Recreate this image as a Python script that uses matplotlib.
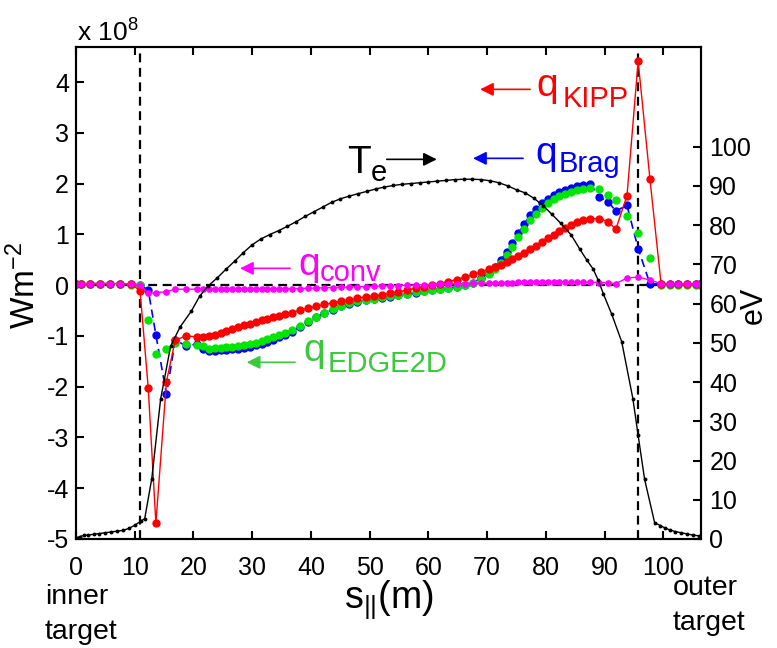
import matplotlib
matplotlib.use('Agg')
import matplotlib.pyplot as plt

plt.rcParams['font.family'] = ['Liberation Sans', 'DejaVu Sans']
plt.rcParams['mathtext.fontset'] = 'custom'
plt.rcParams['mathtext.rm'] = 'Liberation Sans'
plt.rcParams['mathtext.it'] = 'Liberation Sans:italic'
plt.rcParams['axes.unicode_minus'] = False

# s_par positions of the heat flux points (m)
s_q = [0, 0.8, 2.4, 4.1, 5.8, 7.5, 9.4, 10.9, 12.3, 13.6, 15.4, 16.9, 18.8, 20.6, 21.7,
       22.6, 23.6, 24.6, 25.6, 26.6, 27.6, 28.6, 29.6, 30.6, 31.6, 32.6, 33.6, 34.6, 35.6, 36.7,
       38.1, 39.5, 40.9, 42.3, 43.7, 45.1, 46.5, 47.9, 49.3, 50.7, 52.1, 53.5, 54.9, 56.4, 57.8,
       59.2, 60.6, 62.0, 63.4, 64.8, 66.2, 67.6, 69.0,
       70.3, 71.3, 72.3, 73.3, 74.3, 75.3, 76.3, 77.3, 78.3, 79.3, 80.3, 81.3, 82.3, 83.3, 84.3,
       85.3, 86.3,
       87.5, 89.1, 90.6, 91.9, 93.8, 95.7, 97.7, 99.6, 101.1, 102.5, 104.0, 105.5, 106.3]

# heat fluxes in units of 1e8 W/m2
q_kipp = [0.03, 0.03, 0.03, 0.03, 0.03, 0.03, 0.02, -0.11, -2.03, -4.69, -1.9, -1.08, -1.0, -1.02, -1.03,
          -1.01, -0.98, -0.94, -0.90, -0.86, -0.83, -0.79, -0.76, -0.72, -0.69, -0.66, -0.63, -0.60, -0.57, -0.54,
          -0.49, -0.46, -0.42, -0.38, -0.35, -0.32, -0.29, -0.26, -0.23, -0.21, -0.19, -0.16, -0.13, -0.10, -0.06,
          -0.03, 0.0, 0.03, 0.07, 0.11, 0.16, 0.21, 0.26,
          0.31, 0.35, 0.40, 0.46, 0.52, 0.58, 0.64, 0.71, 0.78, 0.85, 0.92, 0.99, 1.06, 1.13, 1.19,
          1.25, 1.29,
          1.31, 1.31, 1.25, 1.10, 1.76, 4.41, 2.10, 0.03, 0.02, 0.02, 0.02, 0.02, 0.02]

q_brag = [0.03, 0.03, 0.03, 0.03, 0.03, 0.03, 0.02, 0.0, -0.10, -0.98, -2.15, -1.08, -1.20, -1.16, -1.25,
          -1.30, -1.29, -1.28, -1.27, -1.26, -1.25, -1.23, -1.21, -1.18, -1.15, -1.12, -1.08, -1.03, -0.98, -0.92,
          -0.83, -0.73, -0.63, -0.55, -0.48, -0.42, -0.37, -0.33, -0.30, -0.28, -0.25, -0.23, -0.20, -0.18, -0.15,
          -0.12, -0.10, -0.08, -0.06, -0.03, 0.0, 0.05, 0.14,
          0.24, 0.36, 0.49, 0.65, 0.83, 1.02, 1.20, 1.38, 1.50, 1.61, 1.70, 1.77, 1.83, 1.88, 1.92,
          1.96, 1.98,
          2.00, 1.74, 1.64, 1.46, 1.57, 0.72, 0.03, 0.02, 0.02, 0.02, 0.02, 0.02, 0.02]

q_edge = [0.03, 0.03, 0.03, 0.03, 0.03, 0.03, 0.01, 0.0, -0.68, -1.35, -1.25, -1.13, -1.16, -1.18, -1.20,
          -1.25, -1.24, -1.23, -1.22, -1.21, -1.20, -1.18, -1.16, -1.13, -1.10, -1.07, -1.03, -0.99, -0.94, -0.89,
          -0.81, -0.71, -0.62, -0.54, -0.47, -0.41, -0.36, -0.32, -0.29, -0.27, -0.24, -0.22, -0.19, -0.17, -0.14,
          -0.11, -0.09, -0.07, -0.05, -0.03, 0.0, 0.04, 0.12,
          0.21, 0.32, 0.44, 0.59, 0.76, 0.94, 1.11, 1.28, 1.41, 1.52, 1.61, 1.69, 1.75, 1.80, 1.84,
          1.88, 1.90,
          1.92, 1.90, 1.78, 1.67, 1.36, 1.02, 0.53, 0.0, 0.0, 0.0, 0.0, 0.0, 0.0]

q_conv = [0.03, 0.03, 0.03, 0.03, 0.03, 0.03, 0.02, 0.0, -0.16, -0.15, -0.13, -0.08, -0.08, -0.08, -0.08,
          -0.08, -0.08, -0.08, -0.08, -0.08, -0.08, -0.08, -0.08, -0.07, -0.07, -0.07, -0.07, -0.07, -0.07, -0.07,
          -0.07, -0.06, -0.06, -0.05, -0.05, -0.04, -0.04, -0.03, -0.03, -0.02, -0.02, -0.01, -0.01, 0.0, 0.0,
          0.01, 0.01, 0.02, 0.02, 0.03, 0.03, 0.04, 0.04,
          0.04, 0.05, 0.05, 0.05, 0.05, 0.06, 0.06, 0.06, 0.06, 0.06, 0.06, 0.06, 0.06, 0.06, 0.06,
          0.06, 0.06,
          0.06, 0.05, 0.05, 0.03, 0.14, 0.16, 0.10, 0.03, 0.02, 0.02, 0.02, 0.02, 0.02]

# electron temperature (eV)
s_te = [0, 0.6, 1.3, 2, 3, 4, 5, 6, 7, 8, 9, 10, 11, 11.7, 12.9, 14.4, 16.1, 17.7, 19.6, 21.1,
        22.5, 24, 25.5, 27, 28.5, 30, 31.5, 33, 34.5, 36, 37.5, 39, 40.5, 42, 43.5, 45, 46.5, 48,
        49.5, 51, 52.5, 54, 55.5, 57, 58.5, 60, 61.5, 63, 64.5, 66, 67.5, 69, 70.5, 72, 73.5, 75,
        76.5, 78, 79.5, 81, 82.5,
        84.3, 85.8, 87.0, 88.0, 88.9, 89.8, 91.2, 92.9, 94.8, 95.7, 96.8, 98.5, 99.5, 100.3, 101.1,
        102.0, 103.0, 104.0, 105.0, 106.1]
te = [0.3, 0.6, 0.9, 1.0, 1.2, 1.4, 1.6, 1.8, 2.0, 2.2, 2.7, 3.5, 4.5, 5.2, 15.4, 35.6, 49.1, 54.0, 58.0, 62.0,
      64.5, 66.5, 68.7, 70.8, 73.0, 75.0, 76.5, 77.6, 78.6, 79.7, 80.9, 82.2, 83.4, 84.6, 85.8, 86.7, 87.4, 88.0,
      88.6, 89.2, 89.7, 90.1, 90.4, 90.6, 90.8, 91.0, 91.2, 91.4, 91.6, 91.7, 91.7, 91.6, 91.3, 90.8, 90.0, 89.0,
      88.2, 86.8, 85.0, 82.8, 80.5,
      77.5, 73.8, 71.0, 68.9, 66.0, 62.4, 57.3, 50.3, 35.8, 26.4, 15.2, 4.2, 3.4, 2.8, 2.3,
      1.9, 1.6, 1.3, 1.0, 0.8]

targets = [10.9, 95.7]

green = '#00e600'
green_txt = '#3cc83c'
magenta = '#ff00ff'

fig = plt.figure(figsize=(7.77, 6.48), dpi=100)
ax = fig.add_axes([76 / 777, 1 - 539 / 648, 625 / 777, 492 / 648])

dash = (0, (4, 2.5))
for t in targets:
    ax.axvline(t, color='k', lw=1.6, ls=dash, zorder=1)
ax.axhline(0, color='k', lw=1.6, ls=dash, zorder=1)

ax.plot(s_q, q_brag, color='b', lw=1.2, ls=(0, (5, 3)), marker='o', ms=5.0, zorder=2)
ax.plot(s_q, q_edge, color=green, ls='none', marker='o', ms=5.0, zorder=3)
ax.plot(s_q, q_kipp, color='r', lw=1.0, marker='o', ms=5.0, zorder=4)
ax.plot(s_q, q_conv, color=magenta, lw=1.0, marker='o', ms=3.8, zorder=5)

ax.set_xlim(0, 106.4)
ax.set_ylim(-5, 4.69)
ax.set_xticks(range(0, 101, 10))
ax.set_yticks(range(-5, 5))
ax.tick_params(direction='in', length=6, width=1.5, labelsize=18, top=True, right=False)
ax.tick_params(axis='x', pad=12)
ax.tick_params(axis='y', pad=5)

ax2 = ax.twinx()
ax2.plot(s_te, te, color='k', lw=1.0, marker='o', ms=1.8)
ax2.set_ylim(0, 125.4)
ax2.set_yticks(range(0, 101, 10))
ax2.tick_params(direction='in', length=6, width=1.5, labelsize=18, pad=6)

for a in (ax, ax2):
    for sp in a.spines.values():
        sp.set_linewidth(1.5)


# pixel -> data helpers for the left axis
def dx(px):
    return (px - 76) / 5.873


def dy(py):
    return (285.1 - py) / 50.78


def arrow(x0, x1, ya, col):
    ax.annotate('', xy=(dx(x1), dy(ya)), xytext=(dx(x0), dy(ya)),
                arrowprops=dict(arrowstyle='-|>', color=col, lw=1.2, mutation_scale=20,
                                shrinkA=0, shrinkB=0), zorder=6)


def label(main, sub, xm, ym, xs, ys, col):
    ax.text(dx(xm), dy(ym), main, color=col, fontsize=28, va='baseline', ha='left', zorder=6)
    ax.text(dx(xs), dy(ys), sub, color=col, fontsize=21, va='baseline', ha='left', zorder=6)


arrow(530, 480, 89.3, 'r')
label('q', 'KIPP', 536.7, 96, 563, 107, 'r')
arrow(523, 473, 158.3, 'b')
label('q', 'Brag', 535, 164, 559, 172, 'b')
arrow(290, 240, 268.3, magenta)
label('q', 'conv', 298, 275, 320, 281, magenta)
arrow(295, 246.7, 362.3, green_txt)
label('q', 'EDGE2D', 303, 361, 328, 372, green_txt)
arrow(386.7, 436.7, 159.3, 'k')
label('T', 'e', 346.7, 172.7, 371, 180.5, 'k')

fig.text(77 / 777, 1 - 42 / 648, r'x 10$^{8}$', fontsize=19, ha='left', va='baseline')
fig.text(25 / 777, 1 - 285 / 648, r'Wm$^{-2}$', fontsize=24, rotation=90, ha='center', va='center')
fig.text(754 / 777, 1 - 305 / 648, 'eV', fontsize=22, rotation=90, ha='center', va='center')
fig.text(389 / 777, 1 - 600 / 648, r's$_{||}$(m)', fontsize=27, ha='center', va='center')
fig.text(45 / 777, 1 - 597 / 648, 'inner', fontsize=20.5, ha='left', va='center')
fig.text(45 / 777, 1 - 632 / 648, 'target', fontsize=20.5, ha='left', va='center')
fig.text(673 / 777, 1 - 588 / 648, 'outer', fontsize=20.5, ha='left', va='center')
fig.text(673 / 777, 1 - 623 / 648, 'target', fontsize=20.5, ha='left', va='center')

fig.savefig('out.png', dpi=100)
